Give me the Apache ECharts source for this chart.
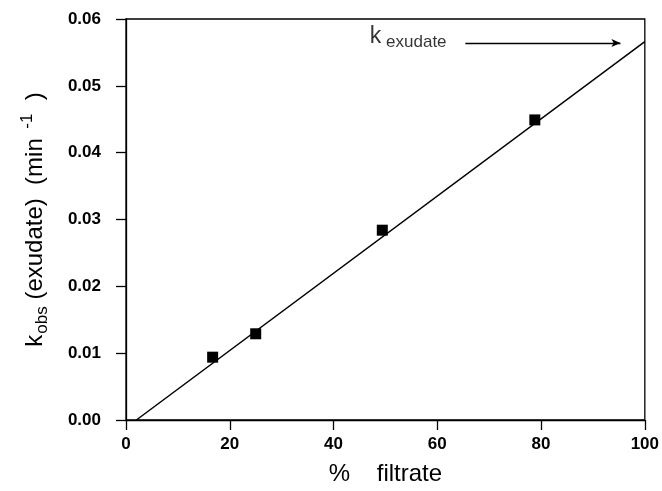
<!DOCTYPE html>
<html>
<head>
<meta charset="utf-8">
<script src="https://cdn.jsdelivr.net/npm/echarts@6/dist/echarts.min.js"></script>
<style>
  html, body { margin: 0; padding: 0; background: #fff; }
  #chart { width: 662px; height: 491px; }
</style>
</head>
<body>
<div id="chart"></div>
<script>
// measured points: % filtrate vs kobs(exudate)
let filtrate = [16.7, 25.0, 49.4, 78.8]
let kobs = [0.0094, 0.0129, 0.0284, 0.0449]
// fitted line ends
let fitLine = [[2.0, 0], [100, 0.0566]]
// k exudate arrow (start, end)
let arrowLine = [[65.4, 0.0564], [95.3, 0.0564]]
let arrowLabelAt = [47.0, 0.0573]

let font = 'Liberation Sans, Arial, sans-serif'

let chart = echarts.init(document.getElementById('chart'))

let option = {
  animation: false,
  backgroundColor: '#fff',
  grid: {
    left: 126,
    right: 17,
    top: 19,
    bottom: 71,
    show: true,
    borderColor: '#000',
    borderWidth: 1.3
  },
  xAxis: {
    type: 'value',
    min: 0,
    max: 100,
    interval: 20,
    name: '%    filtrate',
    nameLocation: 'middle',
    nameGap: 42,
    nameTextStyle: { fontFamily: font, fontSize: 24, color: '#000' },
    axisLine: { onZero: false, lineStyle: { color: '#000', width: 1.3 } },
    axisTick: { inside: false, length: 10, lineStyle: { color: '#000', width: 1.3 } },
    axisLabel: { margin: 16, fontFamily: font, fontSize: 17, fontWeight: 'bold', color: '#000' },
    splitLine: { show: false }
  },
  yAxis: {
    type: 'value',
    min: 0,
    max: 0.06,
    interval: 0.01,
    name: '{t|k}{sub|obs}{t| (exudate)  (min}{sup|  -1}{t|  )}',
    nameLocation: 'middle',
    nameGap: 75,
    nameTextStyle: {
      fontFamily: font,
      color: '#000',
      rich: {
        t: { fontFamily: font, fontSize: 24, color: '#000', height: 32, verticalAlign: 'middle' },
        sub: { fontFamily: font, fontSize: 17, color: '#000', verticalAlign: 'bottom', padding: [0, 0, 0, 1] },
        sup: { fontFamily: font, fontSize: 17, color: '#000', verticalAlign: 'top' }
      }
    },
    axisLine: { onZero: false, lineStyle: { color: '#000', width: 1.3 } },
    axisTick: { inside: false, length: 10, lineStyle: { color: '#000', width: 1.3 } },
    axisLabel: {
      margin: 25,
      fontFamily: font,
      fontSize: 17,
      fontWeight: 'bold',
      color: '#000',
      formatter: v => v.toFixed(2)
    },
    splitLine: { show: false }
  },
  series: [
    {
      name: 'fit',
      type: 'line',
      data: fitLine,
      showSymbol: false,
      symbol: 'none',
      lineStyle: { color: '#000', width: 1.5 },
      z: 2
    },
    {
      name: 'kobs',
      type: 'scatter',
      data: filtrate.map((x, i) => [x, kobs[i]]),
      symbol: 'rect',
      symbolSize: 11,
      itemStyle: { color: '#000', opacity: 1 },
      z: 3
    },
    {
      name: 'kexudate',
      type: 'line',
      data: [],
      markLine: {
        silent: true,
        symbol: ['none', 'arrow'],
        symbolSize: [6, 9],
        label: { show: false },
        lineStyle: { color: '#000', width: 1.3, type: 'solid' },
        data: [[{ coord: arrowLine[0] }, { coord: arrowLine[1] }]]
      }
    },
    {
      name: 'kexudateLabel',
      type: 'scatter',
      data: [arrowLabelAt],
      symbolSize: 0,
      label: {
        show: true,
        position: 'inside',
        align: 'left',
        formatter: '{t|k}{sub| exudate}',
        rich: {
          t: { fontFamily: font, fontSize: 23, color: '#000', height: 28, verticalAlign: 'middle' },
          sub: { fontFamily: font, fontSize: 17, color: '#000', verticalAlign: 'bottom' }
        }
      }
    }
  ]
}

chart.setOption(option)
</script>
</body>
</html>
